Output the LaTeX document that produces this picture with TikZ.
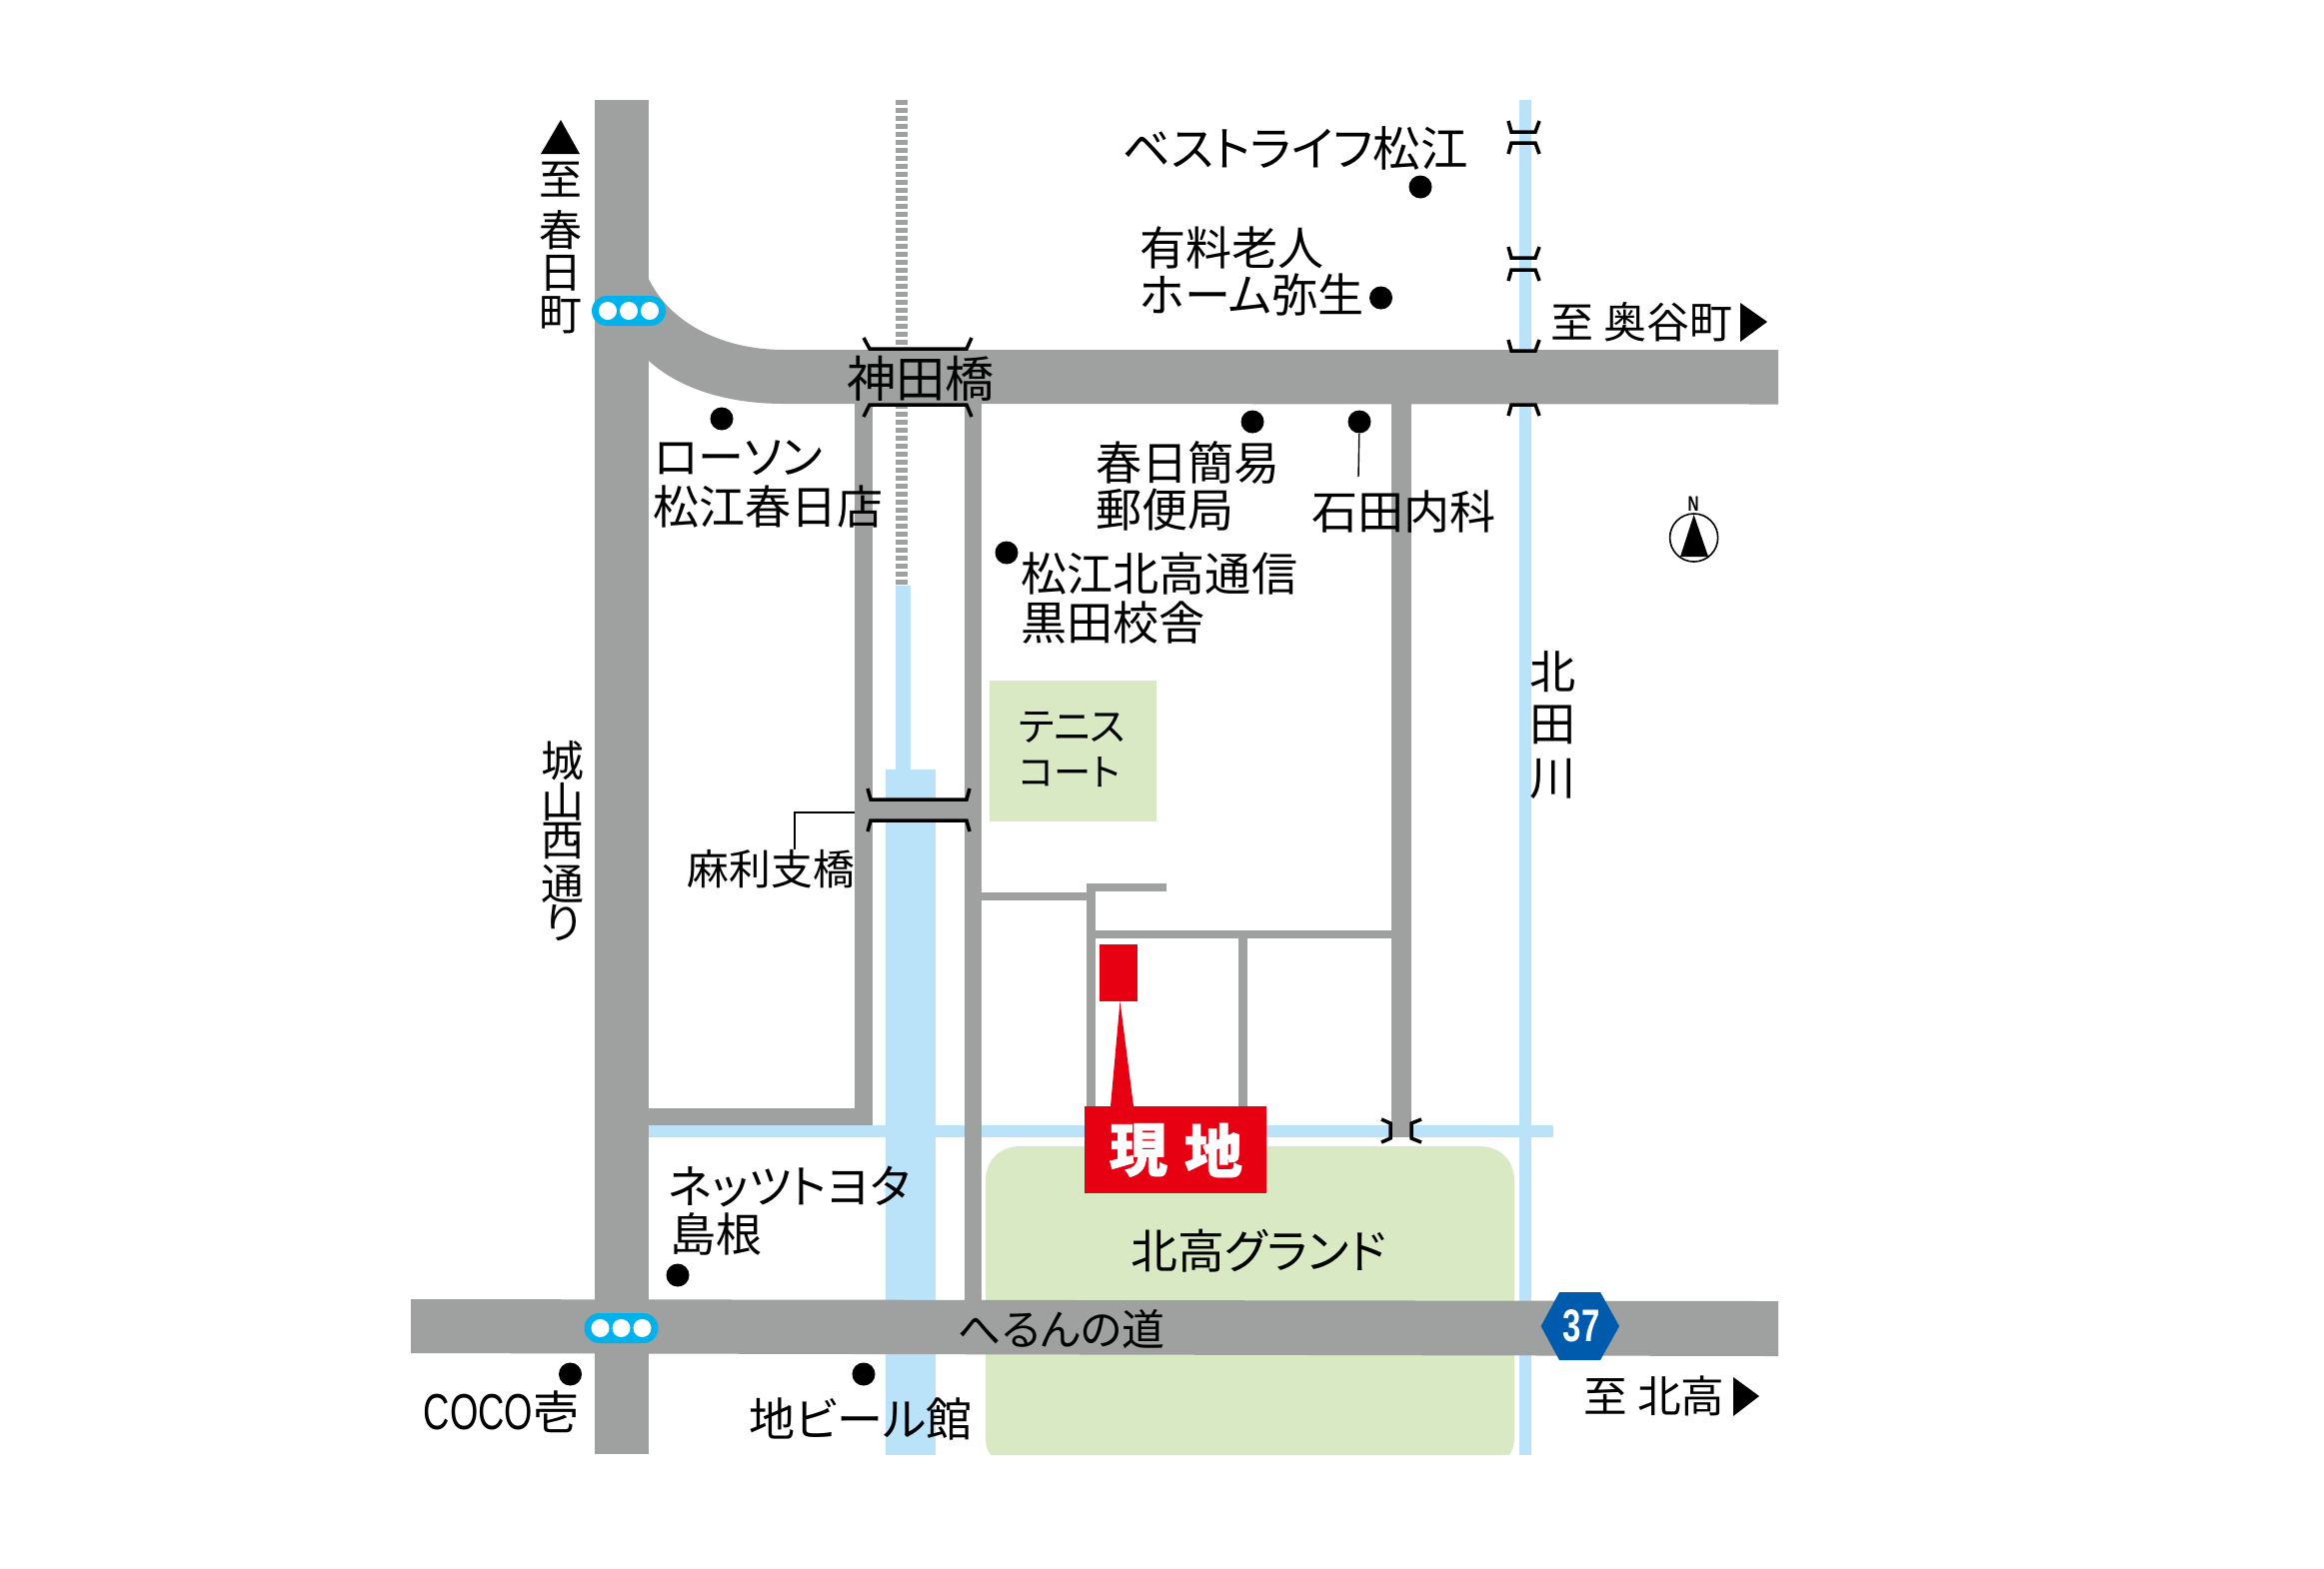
\documentclass[tikz,border=0pt]{standalone}
\usepackage{fontspec}
\setmainfont{Noto Sans CJK JP}[RawFeature=+palt, BoldFeatures={FakeBold=1.2}]
\newfontfamily\narrowfont[FakeStretch=0.72]{Liberation Sans}
\usepackage{tikz}

\definecolor{roadgray}{HTML}{9FA0A0}
\definecolor{riverblue}{HTML}{BAE3F9}
\definecolor{parkgreen}{HTML}{D9E9C4}
\definecolor{signalblue}{HTML}{00B2EC}
\definecolor{sitered}{HTML}{E60012}
\definecolor{routeblue}{HTML}{005BAC}

\begin{document}
\begin{tikzpicture}[
                x=0.01cm, y=-0.01cm,
                label/.style={inner sep=0pt, font=\fontsize{13.1}{15}\selectfont}, % Map text
                lbl/.style={label, anchor=west}, % Text set from its left edge
                biglabel/.style={inner sep=0pt, font=\fontsize{14}{15}\selectfont},
                small/.style={inner sep=0pt, font=\fontsize{12.2}{13}\selectfont},
                road/.style={fill=roadgray},
                river/.style={fill=riverblue},
                park/.style={fill=parkgreen},
                bridge/.style={draw=black, line width=0.035cm},
                marker/.style={circle, fill=black, inner sep=0pt, minimum size=0.23cm} % Map point
                ]
                \useasboundingbox (0,0) rectangle (2325,1569);

                % Water and parks
                \draw[roadgray, line width=0.12cm, dash pattern=on 0.045cm off 0.035cm] (902,100) -- (902,590);
                \fill[river] (896,586) rectangle (911,775);
                \fill[river] (886,770) rectangle (936,1456);
                \fill[river] (1520,100) rectangle (1532,1456);
                \fill[river] (649,1126) rectangle (1554,1138);
                \fill[park] (990,681) rectangle (1157,822);
                \fill[park] (991,1456) .. controls (987,1450) and (986,1445) .. (986,1436) -- (986,1182)
                    .. controls (986,1161) and (1000,1147) .. (1021,1147) -- (1480,1147)
                    .. controls (1501,1147) and (1515,1161) .. (1515,1182) -- (1515,1436)
                    .. controls (1515,1445) and (1514,1450) .. (1510,1456) -- cycle;

                % Roads
                \fill[road] (595,100) rectangle (649,1455);
                \fill[road] (648,277) .. controls (670,325) and (725,350) .. (784,350) -- (1779,350)
                    -- (1779,404.5) -- (784,404) .. controls (730,404) and (680,390) .. (648,360) -- cycle;
                \fill[road] (411,1300) -- (1779,1302) -- (1779,1357) -- (411,1354) -- cycle;
                \fill[road] (855,404) rectangle (873,1126);
                \fill[road] (649,1109) rectangle (873,1126);
                \fill[road] (965,404) rectangle (982,1301);
                \fill[road] (873,800) rectangle (965,821);
                \fill[road] (1392,404) rectangle (1412,1138);
                \fill[road] (982,893) rectangle (1092,901);
                \fill[road] (1087,884) rectangle (1096,1107);
                \fill[road] (1087,884) rectangle (1167,892);
                \fill[road] (1096,931) rectangle (1392,939);
                \fill[road] (1239,939) rectangle (1248,1107);

                % Bridges
                \draw[bridge] (864,338) -- (870,349) -- (967,349) -- (972,338);
                \draw[bridge] (864,417) -- (870,405) -- (967,405) -- (972,417);
                \draw[bridge] (868,789) -- (871,800) -- (967,800) -- (970,789);
                \draw[bridge] (868,832) -- (871,821) -- (967,821) -- (970,832);
                \foreach \ya/\yb in {132/143, 258/270, 351/405} {
                    \draw[bridge] (1509,\ya-11) -- (1512,\ya) -- (1536,\ya) -- (1540,\ya-11);
                    \draw[bridge] (1509,\yb+11) -- (1512,\yb) -- (1536,\yb) -- (1540,\yb+11);
                }
                \draw[bridge] (1382,1120) -- (1391,1124) -- (1391,1139) -- (1382,1143);
                \draw[bridge] (1422,1120) -- (1412,1124) -- (1412,1139) -- (1422,1143);

                % Signals
                \foreach \sx/\sy/\sname in {629/311/north, 621.5/1329/south} {
                    \fill[signalblue, rounded corners=0.15cm] (\sx-37,\sy-15) rectangle (\sx+37,\sy+15);
                    \foreach \dx in {-21,0,21}
                        \fill[white] (\sx+\dx,\sy) circle (0.09cm);
                }

                % Map points
                \foreach \mx/\my/\mname in {722/419/lawson, 1007/553/school, 1421/187/bestlife, 1381.5/298/home,
                        1253/422/post, 1360/422/clinic, 678/1276/toyota, 570.5/1375/coco, 864/1375/beer}
                    \node[marker] (\mname) at (\mx,\my) {};
                \coordinate (clinicend) at (1359,477);
                \draw[line width=0.014cm] (clinic) -- (clinicend);
                \coordinate (maribend) at (795,813);
                \coordinate (mariend) at (795,850);
                \coordinate (maristart) at (855,813);
                \draw[line width=0.014cm] (maristart) -- (maribend) -- (mariend);

                % Site
                \fill[sitered] (1099.5,945) rectangle (1138,1002);
                \fill[sitered] (1120.5,1002) -- (1134,1107) -- (1111,1107) -- cycle;
                \fill[sitered] (1085,1107) rectangle (1267,1194);
                \node[inner sep=0pt, text=white, font=\fontsize{16.5}{18}\selectfont\bfseries] (genchi1) at (1139,1151) {現};
                \node[inner sep=0pt, text=white, font=\fontsize{16.5}{18}\selectfont\bfseries] (genchi2) at (1214,1151) {地};

                % Route sign
                \fill[routeblue] (1541.6,1327) -- (1560,1293) -- (1601,1293) -- (1620,1327) -- (1601,1361) -- (1560,1361) -- cycle;
                \node[inner sep=0pt, text=white, font=\fontsize{13}{14}\narrowfont\bfseries] (route) at (1582,1327) {37};

                % North mark
                \draw[line width=0.016cm] (1694.6,538) circle (0.24cm);
                \fill (1694.6,515) -- (1709,557) -- (1681,557) -- cycle;
                \node[inner sep=0pt, font=\fontsize{6}{7}\narrowfont\bfseries] (north) at (1694,504) {N};

                % Direction arrows
                \fill (561,120) -- (580,154) -- (541,154) -- cycle;
                \fill (1741,303) -- (1768,322) -- (1741,342) -- cycle;
                \fill (1734,1378) -- (1760,1397) -- (1734,1417) -- cycle;

                % Labels
                \node[small] (kasuga1) at (561,180) {至};
                \node[small] (kasuga2) at (561,230) {春};
                \node[small] (kasuga3) at (561,273) {日};
                \node[small] (kasuga4) at (561,315) {町};
                \foreach \cy/\ctext/\cname in {761/城/a, 802/山/b, 841/西/c, 884/通/d, 924/り/e}
                    \node[small] (shiroyama\cname) at (563,\cy) {\ctext};
                \node[biglabel] (kanda) at (921,379) {神田橋};
                \node[lbl] (lawson1) at (653,458) {ローソン};
                \node[lbl] (lawson2) at (653,507) {松江春日店};
                \node[lbl, font=\fontsize{13.5}{15}\selectfont] (bestlifet) at (1122,148) {ベストライフ松江};
                \node[lbl] (home1) at (1140,248) {有料老人};
                \node[lbl] (home2) at (1140,295) {ホーム弥生};
                \node[small, anchor=west] (okutani) at (1551,322) {至 奥谷町};
                \node[lbl] (post1) at (1096,463) {春日簡易};
                \node[lbl] (post2) at (1096,510) {郵便局};
                \node[lbl] (clinict) at (1312,512) {石田内科};
                \node[lbl] (school1) at (1021,574) {松江北高通信};
                \node[lbl] (school2) at (1021,623) {黒田校舎};
                \node[label] (river1) at (1554,672) {北};
                \node[label] (river2) at (1554,725) {田};
                \node[label] (river3) at (1554,779) {川};
                \node[anchor=west, inner sep=0pt, font=\fontsize{11.2}{13}\selectfont] (tennis1) at (1018,728) {テニス};
                \node[anchor=west, inner sep=0pt, font=\fontsize{10.6}{13}\selectfont] (tennis2) at (1019,773) {コート};
                \node[anchor=west, inner sep=0pt, font=\fontsize{11.9}{13}\selectfont] (mari) at (687,870) {麻利支橋};
                \node[lbl] (toyota1) at (668,1187) {ネッツトヨタ};
                \node[lbl] (toyota2) at (670,1235) {島根};
                \node[lbl] (cocot) at (423,1413) {{\narrowfont\fontsize{14.4}{15}\selectfont COCO}壱};
                \node[lbl] (beert) at (749,1420) {地ビール館};
                \node[lbl, font=\fontsize{13.3}{15}\selectfont] (ground) at (1131,1252) {北高グランド};
                \node[lbl, font=\fontsize{12.2}{14}\selectfont] (herun) at (958,1330) {へるんの道};
                \node[anchor=west, inner sep=0pt, font=\fontsize{12.4}{13}\selectfont] (kitako) at (1584,1397) {至 北高};
            \end{tikzpicture}
\end{document}
